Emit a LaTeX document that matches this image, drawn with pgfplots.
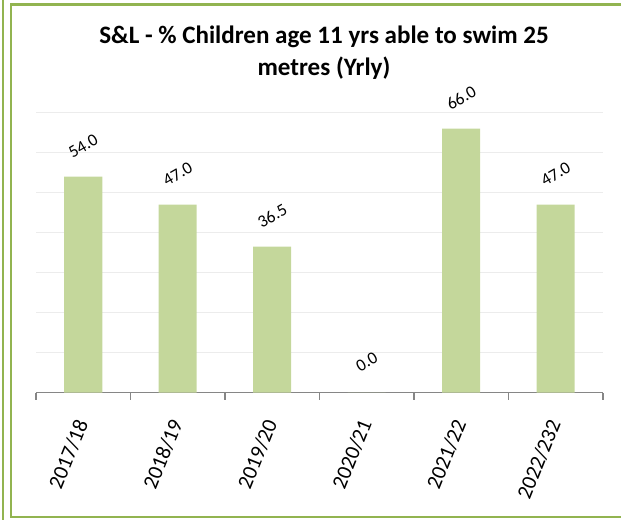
\documentclass[border=0pt]{standalone}
\usepackage{pgfplots}
\pgfplotsset{compat=1.18}
\usepackage{fontspec}
\setmainfont{Carlito}
\definecolor{barcol}{RGB}{196,215,155}
\definecolor{framecol}{RGB}{146,180,80}
\definecolor{gridcol}{RGB}{236,236,236}
\definecolor{axisgray}{RGB}{134,134,134}
\begin{document}
\begin{tikzpicture}[x=0.75pt,y=0.75pt]
\useasboundingbox (0,0) rectangle (621,519);
\draw[framecol, line width=1.6pt] (3,-10) -- (3,530);
\draw[framecol, line width=1.6pt] (660,2) -- (11,2) -- (11,514.5) -- (660,514.5);
\node[anchor=base, font=\bfseries\fontsize{18.8}{22}\selectfont] at (324,519-44) {S\&L - \% Children age 11 yrs able to swim 25};
\node[anchor=base, font=\bfseries\fontsize{18.8}{22}\selectfont] at (324,519-76) {metres (Yrly)};
\coordinate (A) at (36,126.3);
\begin{axis}[
  at={(A)}, anchor=south west,
  width=425.25pt, height=210pt, scale only axis,
  xmin=0, xmax=6, ymin=0, ymax=70,
  ybar, bar width=28.5pt,
  axis x line*=bottom, axis y line*=left,
  x axis line style={draw=axisgray, line width=0.8pt, -},
  y axis line style={draw=none},
  xtick={0.5,1.5,2.5,3.5,4.5,5.5},
  xticklabels={2017/18,2018/19,2019/20,2020/21,2021/22,2022/232},
  minor xtick={0,1,2,3,4,5,6},
  tick align=outside,
  major x tick style={draw=none},
  minor x tick style={draw=axisgray, line width=0.8pt},
  minor tick length=5.25pt,
  xticklabel style={yshift=-14.5pt, rotate=68, anchor=east, font=\fontsize{16}{18}\selectfont, inner sep=2pt},
  ytick={10,20,30,40,50,60,70},
  yticklabels={},
  ytick style={draw=none},
  ymajorgrids,
  major grid style={draw=gridcol, line width=1pt},
  /pgf/number format/assume math mode=true,
  nodes near coords={\pgfmathprintnumber[fixed,fixed zerofill,precision=1,assume math mode=true]{\pgfplotspointmeta}},
  nodes near coords style={font=\fontsize{13}{14}\selectfont, yshift=23pt, rotate=30, anchor=center},
  clip=false,
]
\addplot[fill=barcol, draw=none] coordinates {(0.5,54.0) (1.5,47.0) (2.5,36.5) (3.5,0.0) (4.5,66.0) (5.5,47.0)};
\end{axis}
\end{tikzpicture}
\end{document}
